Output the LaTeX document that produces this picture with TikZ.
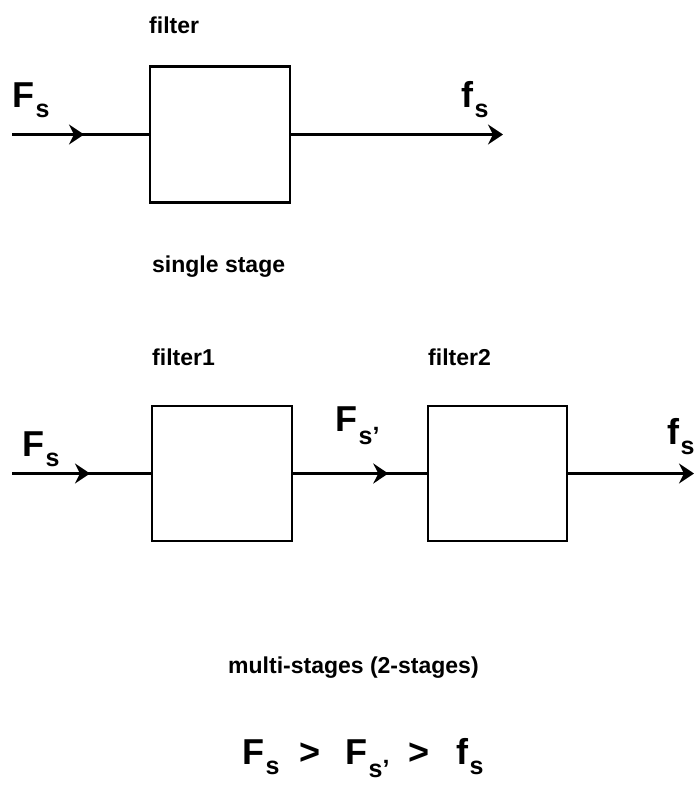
\documentclass[tikz,border=0pt]{standalone}
\usepackage{fontspec}
\setmainfont{Liberation Sans}
\usetikzlibrary{arrows.meta,decorations.markings}
% signal name with a lowered subscript, e.g. F_s
\newcommand{\sigsym}[3][10pt]{#2\kern1.5pt\raisebox{-#1}{\fontsize{25}{25}\selectfont #3}}
\tikzset{
  blk/.style={draw, line width=2.6pt, minimum width=140pt, minimum height=136pt, inner sep=0pt},
  wire/.style={line width=2.8pt},
  tip/.style={-{Stealth[length=15pt,width=20pt,inset=5pt]}},
  midtip/.style={postaction={decorate}, decoration={markings,
      mark=at position #1 with {\arrow{Stealth[length=15pt,width=20pt,inset=5pt]}}}},
  lbl/.style={anchor=base west, inner sep=0pt, font=\fontsize{23}{23}\selectfont\bfseries},
  sig/.style={anchor=base west, inner sep=0pt, font=\fontsize{36}{36}\selectfont\bfseries},
}
\begin{document}
\begin{tikzpicture}[x=1pt, y=-1pt]
\useasboundingbox (0,0) rectangle (694,798);

% ---- single stage ----
\node[blk] (A) at (220,134.5) {};
\coordinate (inA) at (12,134.5);
\coordinate (outA) at (503,134.5);
\draw[wire, midtip=72pt] (inA) -- (A.west);
\draw[wire, tip] (A.east) -- (outA);
\node[lbl] (tA) at (149,33) {filter};
\node[sig] (FsA) at (12,107) {\sigsym{F}{s}};
\node[sig] (fsA) at (461,107) {\sigsym{f}{s}};
\node[lbl] (single) at (152,272) {single stage};

% ---- two stages ----
\node[blk, minimum height=135pt] (B) at (222,473.5) {};
\node[blk, minimum width=139pt, minimum height=135pt] (C) at (497.5,473.5) {};
\coordinate (inB) at (12,473.5);
\coordinate (outC) at (694,473.5);
\draw[wire, midtip=78pt] (inB) -- (B.west);
\draw[wire, midtip=95pt] (B.east) -- (C.west);
\draw[wire, tip] (C.east) -- (outC);
\node[lbl] (tB) at (152,365) {filter1};
\node[lbl] (tC) at (428,365) {filter2};
\node[sig] (FsB) at (22,456) {\sigsym{F}{s}};
\node[sig] (FspB) at (335,431) {\sigsym[13pt]{F}{s'}};
\node[sig] (fsC) at (667,444) {\sigsym{f}{s}};
\node[lbl] (multi) at (228,673) {multi-stages (2-stages)};

% ---- rate ordering ----
\node[sig] (r1) at (242,764) {\sigsym{F}{s}};
\node[sig] (g1) at (299,764) {>};
\node[sig] (r2) at (345,764) {\sigsym[13pt]{F}{s'}};
\node[sig] (g2) at (408,764) {>};
\node[sig] (r3) at (456,764) {\sigsym{f}{s}};
\end{tikzpicture}
\end{document}
